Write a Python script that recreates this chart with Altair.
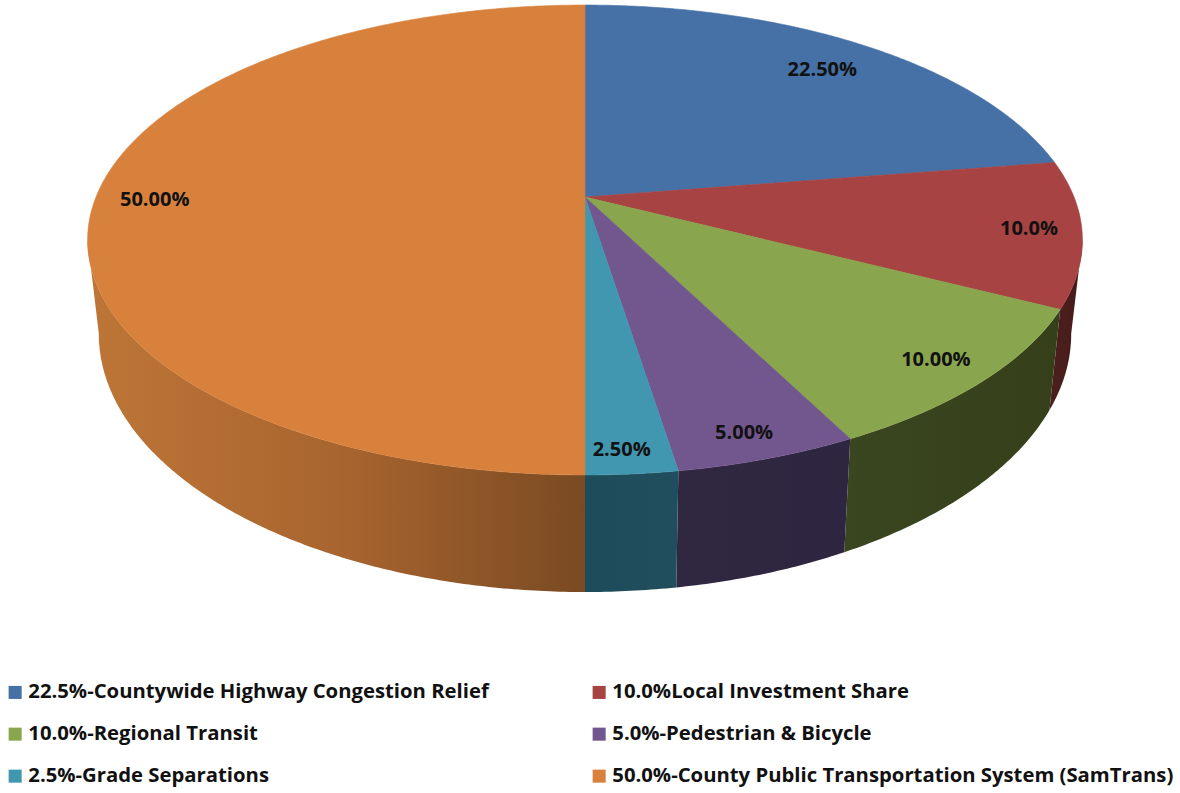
import altair as alt
import numpy as np
import pandas as pd

legend_labels = [
    "22.5%-Countywide Highway Congestion Relief",
    "10.0%Local Investment Share",
    "10.0%-Regional Transit",
    "5.0%-Pedestrian & Bicycle",
    "2.5%-Grade Separations",
    "50.0%-County Public Transportation System (SamTrans)",
]
shares = [22.5, 10.0, 10.0, 5.0, 2.5, 50.0]
value_labels = ["22.50%", "10.0%", "10.00%", "5.00%", "2.50%", "50.00%"]

top_colors = ["#4671A7", "#A74342", "#89A54E", "#72568E", "#4197AF", "#D8813D"]
# Side wall shading per slice, left-to-right gradient stops
wall_stops = {
    1: ["#4C1F1D", "#451C1B"],
    2: ["#3A461F", "#35401B"],
    3: ["#302741", "#2E2540"],
    4: ["#1F4C5B", "#214E5C"],
    5: ["#BD7637", "#A9652F", "#7A4A22"],
}
# Radial position and angular nudge of each value label within its slice
label_radius = [0.838, 0.896, 0.891, 0.906, 0.918, 0.88]
label_nudge = [-0.2, -1.0, -0.5, 0.4, 0.6, 0.0]

WIDTH, HEIGHT = 1180, 793
# The wall silhouette runs between the rim extremes on each side
WALL_START, WALL_END = 100.5, 259.5


# Perspective projection of the pie's circular faces onto the page
def project(theta_deg, radius, ring):
    t = np.radians(theta_deg)
    u = radius * np.sin(t)
    v = -radius * np.cos(t)
    d = 1 - 0.183 * v
    if ring == "top":
        return 585 + 489 * u / d, 197 + 227.1 * v / d
    return 585 + 478 * u / d, 286.5 + 249.6 * v / d


def arc_angles(a, b):
    return np.linspace(a, b, max(int((b - a) * 2), 2) + 1)


ends = np.cumsum(shares) * 3.6
starts = np.concatenate([[0.0], ends[:-1]])

top_rows, wall_frames, text_rows = [], {}, []
for k, (a, b) in enumerate(zip(starts, ends)):
    ang = arc_angles(a, b)
    xs, ys = project(ang, 1.0, "top")
    px = np.concatenate([[585.0], xs, [585.0]])
    py = np.concatenate([[197.0], ys, [197.0]])
    for i, (x, y) in enumerate(zip(px, py)):
        top_rows.append({"slice": legend_labels[k], "i": i, "x": x, "y": y})

    wa, wb = max(a, WALL_START), min(b, WALL_END)
    if wb > wa:
        wall_ang = arc_angles(wa, wb)
        tx, ty = project(wall_ang, 1.0, "top")
        bx, by = project(wall_ang[::-1], 1.0, "bottom")
        wx = np.concatenate([tx, bx, tx[:1]])
        wy = np.concatenate([ty, by, ty[:1]])
        wall_frames[k] = pd.DataFrame({"i": np.arange(len(wx)), "x": wx, "y": wy})

    mid = (a + b) / 2 + label_nudge[k]
    lx, ly = project(np.array([mid]), label_radius[k], "top")
    text_rows.append({"x": lx[0], "y": ly[0], "text": value_labels[k]})

x_enc = alt.X("x:Q", scale=alt.Scale(domain=[0, WIDTH], nice=False, zero=False), axis=None)
y_enc = alt.Y("y:Q", scale=alt.Scale(domain=[HEIGHT, 0], nice=False, zero=False), axis=None)

layers = []
for k, frame in wall_frames.items():
    stops = wall_stops[k]
    gradient = alt.LinearGradient(
        gradient="linear", x1=0, x2=1, y1=0, y2=0,
        stops=[alt.GradientStop(offset=n / (len(stops) - 1), color=c) for n, c in enumerate(stops)],
    )
    layers.append(
        alt.Chart(frame)
        .mark_line(fill=gradient, strokeWidth=0, interpolate="linear")
        .encode(x=x_enc, y=y_enc, order="i:Q")
    )

color_scale = alt.Scale(domain=legend_labels, range=top_colors)
top_layer = (
    alt.Chart(pd.DataFrame(top_rows))
    .mark_line(strokeWidth=0.6, interpolate="linear")
    .encode(
        x=x_enc,
        y=y_enc,
        order="i:Q",
        detail="slice:N",
        stroke=alt.Stroke("slice:N", scale=color_scale, legend=None),
        fill=alt.Fill(
            "slice:N",
            scale=color_scale,
            sort=None,
            legend=alt.Legend(
                title=None,
                orient="none",
                direction="horizontal",
                legendX=5,
                legendY=682,
                columns=2,
                gridAlign="each",
                columnPadding=100,
                rowPadding=21,
                symbolType="square",
                symbolSize=170,
                symbolStrokeWidth=0,
                labelFont="Open Sans",
                labelFontWeight="bold",
                labelFontSize=20.3,
                labelColor="#111111",
                labelLimit=0,
                labelOffset=3,
            ),
        ),
    )
)
layers.append(top_layer)

layers.append(
    alt.Chart(pd.DataFrame(text_rows))
    .mark_text(font="Open Sans", fontWeight="bold", fontSize=20, dy=3, color="#111111")
    .encode(x=x_enc, y=y_enc, text="text:N")
)

chart = (
    alt.layer(*layers)
    .properties(width=WIDTH, height=HEIGHT, padding=0, autosize=alt.AutoSizeParams(type="none"), background="white")
    .configure_view(stroke=None)
)

chart.save("out.html", embed_options={"renderer": "svg", "actions": False})
